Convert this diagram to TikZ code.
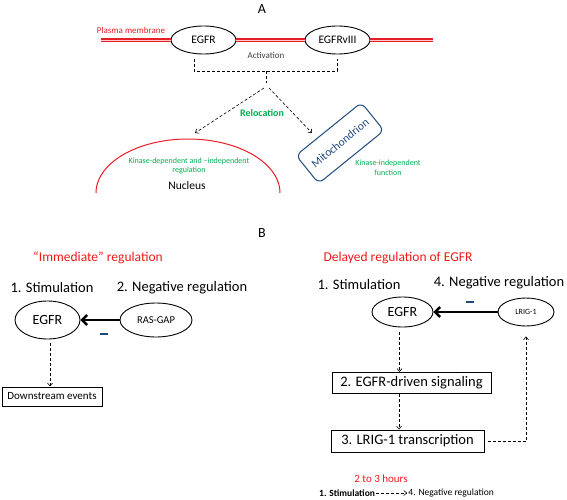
\documentclass[tikz,border=0pt]{standalone}
\usepackage{fontspec}
\setmainfont{Carlito}
\usetikzlibrary{arrows.meta,calc,shapes.geometric}
\definecolor{memred}{RGB}{230,30,40}
\definecolor{titlered}{RGB}{240,25,25}
\definecolor{kgreen}{RGB}{0,176,80}
\definecolor{mblue}{RGB}{31,73,125}
\definecolor{actgray}{RGB}{64,64,64}
\newcommand{\fsz}[2]{\fontsize{#1}{#2}\selectfont}
\begin{document}
\begin{tikzpicture}[x=1pt,y=-1pt,
  ell/.style={draw, ellipse, line width=0.9pt, inner sep=0pt},
  membrane/.style={draw=memred, double=red!20, double distance=0.9pt, line width=1.2pt},
  dsh/.style={line width=0.6pt, dash pattern=on 3pt off 2pt},
  dasharr/.style={dsh, -{Straight Barb[length=3pt,width=5pt]}},
  thickarr/.style={line width=2.4pt, -{Straight Barb[length=5pt,width=10pt]}},
  boxst/.style={draw, line width=1pt, inner sep=0pt},
  gtext/.style={text=kgreen, font=\fsz{8}{9.5}, align=center},
  minusst/.style={text=mblue, inner sep=0pt}
]
\useasboundingbox (0,0) rectangle (567,500);
% ---------- Part A ----------
\node[font=\fsz{14}{16}] (labA) at (262,9) {A};
\node[text=memred, font=\fsz{9}{10}] (pm) at (131,30) {Plasma membrane};
\node[ell, minimum width=65pt, minimum height=28pt, font=\fsz{11.5}{13}] (egfrA) at (203.5,40) {EGFR};
\node[ell, minimum width=65pt, minimum height=28pt, font=\fsz{11.5}{13}] (egfrv) at (337.5,40) {EGFRvIII};
\coordinate (memL) at (101,40);
\coordinate (memR) at (433,40);
\draw[membrane] (memL) -- (egfrA.west);
\draw[membrane] (egfrA.east) -- (egfrv.west);
\draw[membrane] (egfrv.east) -- (memR);
\node[text=actgray, font=\fsz{9}{10}] (act) at (266,55) {Activation};
\coordinate (b1) at (194,59);
\coordinate (b2) at (194,71);
\coordinate (b3) at (337,71);
\coordinate (b4) at (337,59);
\coordinate (bm) at (266,71);
\coordinate (apex) at (266,83);
\draw[dsh] (b1) -- (b2) -- (b3) -- (b4);
\draw[dsh] (bm) -- (apex);
\coordinate (apL) at (264,88);
\coordinate (apR) at (269,88);
\coordinate (nucTip) at (195,133);
\coordinate (mitoTip) at (312,133);
\draw[dasharr] (apL) -- (nucTip);
\draw[dasharr] (apR) -- (mitoTip);
\node[text=kgreen, font=\bfseries\fsz{10}{12}] (reloc) at (262,113) {Relocation};
\draw[memred, line width=1pt, domain=180:360, samples=90, smooth]
  plot ({188+92*cos(\x)},{193+54*sin(\x)});
\node[gtext] (kdep) at (189,166) {Kinase-dependent and –independent\\regulation};
\node[font=\fsz{11.5}{13}] (nuc) at (187,186) {Nucleus};
\node[draw=mblue, line width=1pt, rounded corners=6pt, minimum width=84pt, minimum height=36pt,
      rotate=39, text=mblue, font=\fsz{11.5}{13}, inner sep=0pt] (mito) at (340,143) {Mitochondrion};
\node[gtext] (kind) at (388,168) {Kinase-independent\\function};
% ---------- Part B ----------
\node[font=\fsz{14}{16}] (labB) at (262,233) {B};
\node[text=titlered, font=\fsz{13.5}{15}] (imm) at (98,258) {“Immediate” regulation};
\node[text=titlered, font=\fsz{13.5}{15}] (del) at (398,258) {Delayed regulation of EGFR};
% left
\node[font=\fsz{14.5}{16}] (stimL) at (52,288) {1. Stimulation};
\node[font=\fsz{14.5}{16}] (negL) at (182,288) {2. Negative regulation};
\node[ell, minimum width=65pt, minimum height=38pt, font=\fsz{14}{16}] (egfrL) at (47.5,320) {EGFR};
\node[ell, minimum width=72pt, minimum height=34pt, font=\fsz{10.5}{12}] (rasgap) at (156,320) {RAS-GAP};
\draw[thickarr] (rasgap) -- (egfrL);
\node[minusst] (minusL) at (104,334) {\rule{8pt}{2.8pt}};
\node[boxst, minimum width=100pt, minimum height=19pt, font=\fsz{11}{13}] (down) at (52,396.5) {Downstream events};
\coordinate (dl) at ([xshift=2.5pt,yshift=-4pt]egfrL.south);
\draw[dasharr] (dl) -- (dl |- down.north);
% right
\node[font=\fsz{14.5}{16}] (stimR) at (359,285) {1. Stimulation};
\node[font=\fsz{14.5}{16}] (negR) at (499,283) {4. Negative regulation};
\node[ell, minimum width=61pt, minimum height=30pt, font=\fsz{14}{16}] (egfrR) at (402.5,312) {EGFR};
\node[ell, minimum width=56pt, minimum height=28pt, font=\fsz{8}{9}] (lrig) at (526,312) {LRIG-1};
\draw[thickarr] (lrig) -- (egfrR);
\node[minusst] (minusR) at (470,302) {\rule{8pt}{2.8pt}};
\node[boxst, minimum width=159pt, minimum height=21pt, font=\fsz{14.5}{16}] (sig) at (411.5,383) {2. EGFR-driven signaling};
\node[boxst, minimum width=153pt, minimum height=22pt, font=\fsz{14.5}{16}] (trans) at (407.5,441) {3. LRIG-1 transcription};
\coordinate (e1) at ([xshift=-3pt,yshift=-5pt]egfrR.south);
\draw[dasharr] (e1) -- (e1 |- sig.north);
\coordinate (e2) at ([xshift=-12.5pt]sig.south);
\draw[dasharr] (e2) -- (e2 |- trans.north);
\coordinate (lt) at ([yshift=-10pt]lrig.south);
\draw[dasharr] ([xshift=3pt]trans.east) -- (trans.east -| lt) -- (lt);
% bottom
\node[text=titlered, font=\fsz{11}{13}] (hrs) at (381,479) {2 to 3 hours};
\node[font=\bfseries\fsz{9.5}{12}, anchor=west, inner sep=1pt] (bstim) at (318,493) {1. Stimulation};
\node[font=\fsz{9.5}{11}, anchor=east, inner sep=1pt] (bneg) at (495,493) {4. Negative regulation};
\draw[dasharr] (bstim.east) -- (bneg.west);
\end{tikzpicture}
\end{document}
